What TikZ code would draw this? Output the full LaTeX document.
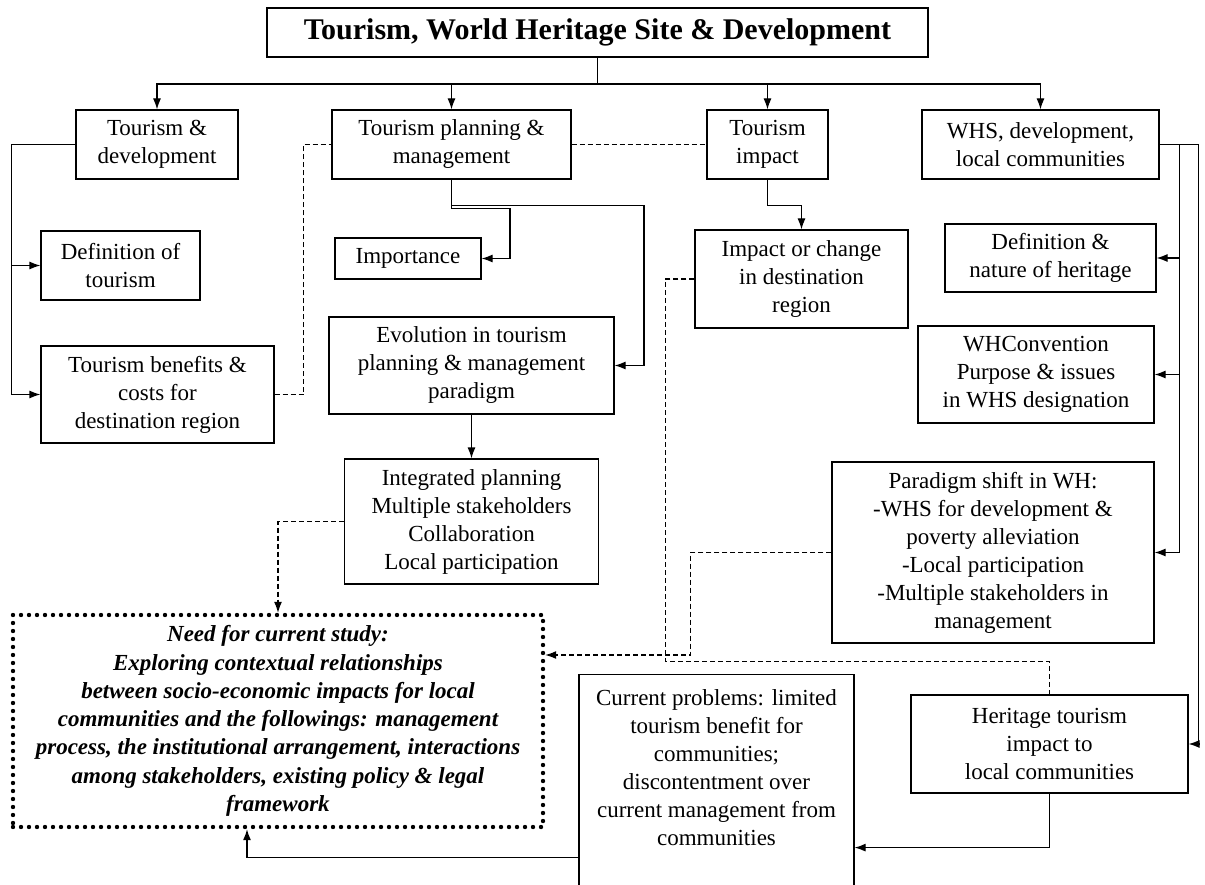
\documentclass[tikz,border=0pt]{standalone}
\usepackage{fontspec}
\setmainfont{Liberation Serif}
\usetikzlibrary{arrows.meta,calc}
\tikzset{
  box/.style={draw, line width=1.2pt, align=center, inner sep=2pt, font=\fontsize{23}{28}\selectfont},
  needbox/.style={draw, line width=4.4pt, dash pattern=on 0pt off 8pt, line cap=round, align=center,
    font=\bfseries\itshape\fontsize{23}{28.3}\selectfont},
  link/.style={line width=1.2pt},
  dlink/.style={line width=1.1pt, dash pattern=on 5pt off 3pt}
}

\begin{document}
\begin{tikzpicture}[x=1pt, y=-1pt, >={Latex[length=11pt,width=8pt]}]
  \useasboundingbox (0,0) rectangle (1205,885);

  \node[box, minimum width=661, minimum height=49, font=\bfseries\fontsize{30}{36}\selectfont] (title) at (597.5,32.5) {Tourism, World Heritage Site \& Development};

  \node[box, minimum width=162, minimum height=69] (td) at (157,144.5) {Tourism \&\\development};
  \node[box, minimum width=239, minimum height=69] (tpm) at (451.5,144.5) {Tourism planning \&\\management};
  \node[box, minimum width=121, minimum height=69] (ti) at (767.5,144.5) {Tourism\\impact};
  \node[box, minimum width=237, minimum height=69] (whs) at (1040.5,144.5) {WHS, development,\\local communities};

  \node[box, minimum width=159, minimum height=69] (deft) at (120.5,265.5) {Definition of\\tourism};
  \node[box, minimum width=233, minimum height=97] (tbc) at (157.5,394.5) {Tourism benefits \&\\costs for\\destination region};
  \node[box, minimum width=146, minimum height=41] (imp) at (408,258.5) {Importance};
  \node[box, minimum width=285, minimum height=97] (evo) at (471.5,365.5) {Evolution in tourism\\planning \& management\\paradigm};
  \node[box, minimum width=254, minimum height=125] (integ) at (471.5,521.5) {Integrated planning\\Multiple stakeholders\\Collaboration\\Local participation};
  \node[box, minimum width=213, minimum height=98] (impc) at (801.5,279) {Impact or change\\in destination\\region};
  \node[box, minimum width=211, minimum height=68] (defh) at (1050.5,258) {Definition \&\\nature of heritage};
  \node[box, minimum width=236, minimum height=97] (whc) at (1036,374.5) {WHConvention\\Purpose \& issues\\in WHS designation};
  \node[box, minimum width=322, minimum height=181] (para) at (993,552.5) {Paradigm shift in WH:\\-WHS for development \&\\poverty alleviation\\-Local participation\\-Multiple stakeholders in\\management};
  \node[box, minimum width=277, minimum height=98] (herit) at (1049.5,744) {Heritage tourism\\impact to\\local communities};
  \node[box, inner sep=0pt, anchor=north] (cur) at (716.5,674) {\parbox[c][226pt][t]{275pt}{\centering\vspace*{15pt}Current problems: limited\\tourism benefit for\\communities;\\discontentment over\\current management from\\communities}};
  \node[needbox, minimum width=530, minimum height=212] (need) at (278,721) {Need for current study:\\Exploring contextual relationships\\between socio-economic impacts for local\\communities and the followings: management\\process, the institutional arrangement, interactions\\among stakeholders, existing policy \& legal\\framework};

  % top level
  \coordinate (bus) at (597.5,84);
  \draw[link] (title) -- (bus);
  \draw[link,->] (bus) -| (td);
  \draw[link,->] (bus) -| (tpm);
  \draw[link,->] (bus) -| (ti);
  \draw[link,->] (bus) -| (whs);

  % tourism & development
  \draw[link,->] (td.west) -- ++(-64,0) |- (deft);
  \draw[link,->] (td.west) -- ++(-64,0) |- (tbc);
  \draw[dlink] (tbc.east) -- ++(29,0) |- (tpm);
  \draw[dlink] (tpm) -- (ti);

  % planning & management
  \draw[link,->] (tpm.south) -- ++(0,29) -- ++(58.5,0) |- (imp);
  \draw[link,->] (tpm.south) -- ++(0,26) -- ++(192.5,0) |- (evo);
  \draw[link,->] (evo) -- (integ);
  \draw[dlink,->] (integ.west) -| (need);

  % impact
  \draw[link,->] (ti.south) -- ++(0,26) -| (impc);
  \draw[dlink] (impc.west) -- ++(-29,0) |- ($(herit.north)+(0,-33)$) -- (herit.north);

  % WHS
  \draw[link,->] (whs.east) -- ++(20,0) |- (defh);
  \draw[link,->] (whs.east) -- ++(20,0) |- (whc);
  \draw[link,->] (whs.east) -- ++(20,0) |- (para);
  \draw[link,->] (whs.east) -- ++(39,0) |- (herit);
  \draw[dlink,->] (para.west) -- ++(-141,0) |- ($(need.east)+(0,-66)$);

  \draw[link,->] (herit.south) |- ($(cur.east)+(0,60)$);
  \draw[link,->] ($(cur.west)+(0,70)$) -| ($(need.south)+(-31,0)$);
\end{tikzpicture}
\end{document}
